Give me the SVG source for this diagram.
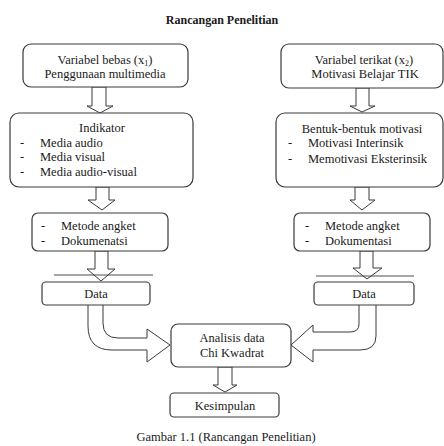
<svg xmlns="http://www.w3.org/2000/svg" width="444" height="446" viewBox="0 0 444 446" font-family="'Liberation Serif', 'Times New Roman', Times, 'DejaVu Serif', serif">
<style>
.box{fill:#fff;stroke:#3a3a3a;stroke-width:1.2}
.arr{fill:#fff;stroke:#3a3a3a;stroke-width:1}
.ln{fill:none;stroke:#3a3a3a;stroke-width:0.9}
text{font-family:'Liberation Serif','Times New Roman',Times,'DejaVu Serif',serif;font-size:12.5px;fill:#1a1a1a}
.c{text-anchor:middle}
.t{font-weight:bold;font-size:12px}
</style>
<rect width="444" height="446" fill="#fff"/>
<text class="c t" x="222" y="24">Rancangan Penelitian</text>

<g id="connectors">
  <polygon class="arr" points="92,87 106,87 106,106 113,106 100,113 87,106 92,106"/>
  <polygon class="arr" points="356,88 369,88 369,106 375,106 362,112 350,106 356,106"/>
  <polygon class="arr" points="96,187 109,187 109,200 115,200 102,210 88,200 96,200"/>
  <polygon class="arr" points="355,187 369,187 369,200 375,200 362,210 350,200 355,200"/>
  <polygon class="arr" points="95,251 108,251 108,269 115,269 101,281 87,269 95,269"/>
  <line class="ln" x1="54" y1="275" x2="153" y2="275"/>
  <polygon class="arr" points="360,251 373,251 373,268 382,268 367,279 353,268 360,268"/>
  <line class="ln" x1="316" y1="276" x2="414" y2="276"/>
  <path class="arr" d="M88,305 L88,326 Q88,350 112,350 L147,350 L147,362 L170,345 L147,329 L147,338 L118,338 Q103,338 103,323 L103,305"/>
  <path class="arr" d="M376,305 L376,336 Q376,350 360,350 L313,350 L313,362 L291,345 L313,325 L313,332 L350,332 Q359,332 359,324 L359,305"/>
  <polygon class="arr" points="218,367 232,367 232,385 237,385 225,392 213,385 218,385"/>
</g>

<g id="n1">
  <rect class="box" x="23" y="44" width="165" height="43" rx="8"/>
  <text class="c" x="105" y="64">Variabel bebas (x<tspan font-size="8" dy="2">1</tspan><tspan dy="-2">)</tspan></text>
  <text class="c" x="105" y="78">Penggunaan multimedia</text>
</g>
<g id="n2">
  <rect class="box" x="281" y="44" width="162" height="44" rx="8"/>
  <text class="c" x="364" y="64">Variabel terikat (x<tspan font-size="8" dy="2">2</tspan><tspan dy="-2">)</tspan></text>
  <text class="c" x="365" y="78">Motivasi Belajar TIK</text>
</g>
<g id="n3">
  <rect class="box" x="10" y="113" width="183" height="74" rx="9"/>
  <text class="c" x="102" y="132">Indikator</text>
  <text x="20" y="147">-</text><text x="40" y="147">Media audio</text>
  <text x="20" y="161">-</text><text x="40" y="161">Media visual</text>
  <text x="20" y="176">-</text><text x="40" y="176">Media audio-visual</text>
</g>
<g id="n4">
  <rect class="box" x="276" y="113" width="167" height="74" rx="9"/>
  <text class="c" x="362" y="133">Bentuk-bentuk motivasi</text>
  <text x="288" y="147">-</text><text x="308" y="147">Motivasi Interinsik</text>
  <text x="288" y="163">-</text><text x="308" y="163">Memotivasi Eksterinsik</text>
</g>
<g id="n5">
  <rect class="box" x="32" y="213" width="136" height="38" rx="6"/>
  <text x="41" y="230">-</text><text x="61" y="230">Metode angket</text>
  <text x="41" y="245">-</text><text x="61" y="245">Dokumenatsi</text>
</g>
<g id="n6">
  <rect class="box" x="294" y="213" width="136" height="38" rx="6"/>
  <text x="305" y="230">-</text><text x="325" y="230">Metode angket</text>
  <text x="305" y="245">-</text><text x="325" y="245">Dokumentasi</text>
</g>
<g id="n7">
  <rect class="box" x="42" y="282" width="108" height="23" rx="4"/>
  <text class="c" x="96" y="298">Data</text>
</g>
<g id="n8">
  <rect class="box" x="314" y="282" width="100" height="23" rx="4"/>
  <text class="c" x="364" y="298">Data</text>
</g>
<g id="n9">
  <rect class="box" x="171" y="324" width="120" height="43" rx="7"/>
  <text class="c" x="232" y="342">Analisis data</text>
  <text class="c" x="232" y="357">Chi Kwadrat</text>
</g>
<g id="n10">
  <rect class="box" x="170" y="393" width="109" height="24" rx="4"/>
  <text class="c" x="225" y="410">Kesimpulan</text>
</g>
<text class="c" x="226" y="441">Gambar 1.1 (Rancangan Penelitian)</text>
</svg>
